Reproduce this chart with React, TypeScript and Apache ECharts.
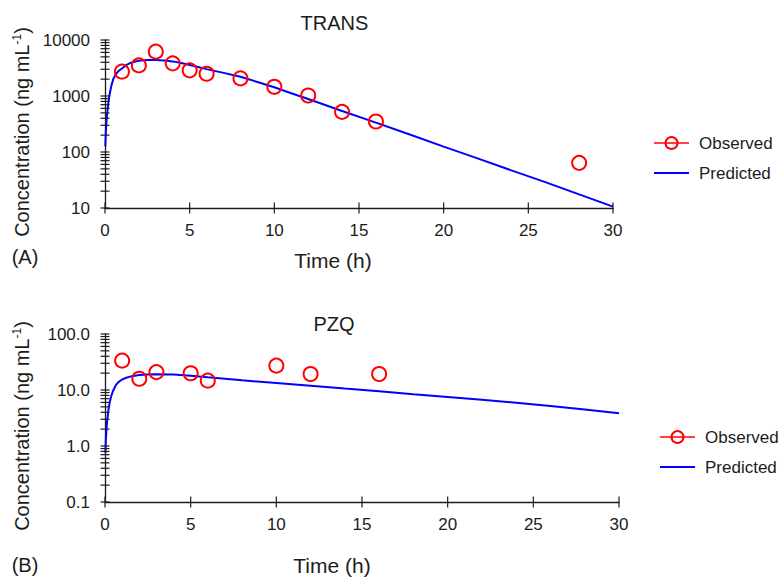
import React, { useEffect, useRef } from "react";
import * as echarts from "echarts";

// ---- Data ----
const transObserved: [number, number][] = [
  [1, 2720], [2, 3520], [3, 6190], [4, 3830], [5, 2870], [6, 2500],
  [8, 2060], [10, 1460], [12, 1020], [14, 520], [16, 350], [28, 64],
];
const transPredicted: [number, number][] = [
  [0.02, 126], [0.05, 230], [0.1, 400], [0.14, 520], [0.2, 760], [0.28, 1100],
  [0.38, 1550], [0.5, 2050], [0.65, 2450], [0.8, 2800], [1, 3100], [1.25, 3550],
  [1.5, 3900], [1.75, 4100], [2, 4250], [2.5, 4380], [3, 4390], [3.5, 4300],
  [4, 4150], [4.5, 3870], [5, 3580], [5.5, 3290], [6, 3020], [7, 2590],
  [8, 2200], [9, 1780], [10, 1430], [11, 1120], [12, 885], [14, 540], [16, 335],
  [18, 205], [20, 125], [22, 77], [24, 47], [26, 29], [28, 17.5], [30, 10.6],
];
const pzqObserved: [number, number][] = [
  [1, 33.4], [2, 15.9], [3, 20.9], [5, 19.9], [6, 14.7], [10, 27.2], [12, 19.3], [16, 19.3],
];
const pzqPredicted: [number, number][] = [
  [0.02, 0.75], [0.05, 1.3], [0.08, 1.9], [0.12, 2.7], [0.2, 4.4], [0.27, 5.9],
  [0.35, 7.5], [0.45, 9.3], [0.63, 12.2], [0.8, 14.0], [1, 15.4], [1.25, 16.6],
  [1.5, 17.5], [2, 18.5], [2.5, 19.0], [3, 19.2], [4, 18.9], [5, 18.0],
  [6, 16.9], [7, 15.9], [8, 14.9], [10, 13.3], [12, 11.9], [14, 10.6],
  [16, 9.5], [18, 8.4], [20, 7.5], [22, 6.7], [24, 5.9], [26, 5.2],
  [28, 4.5], [30, 3.85],
];

const xTicks = [0, 5, 10, 15, 20, 25, 30];
const topDecades = [10, 100, 1000];
const topMaxTick = 10000;
const bottomDecades = [0.1, 1, 10];
const bottomMaxTick = 100;
const minorFactors = [1, 2, 3, 4, 5, 6, 7, 8, 9];

const titles = ["TRANS", "PZQ"];
const panelLetters = ["(A)", "(B)"];
const xName = "Time (h)";
const legendNames = ["Observed", "Predicted"];

const FONT = '"Liberation Sans", Arial, sans-serif';
const INK = "#1c1c1c";
const RED = "#ff0000";
const BLUE = "#0000ff";

function logTicks(decades: number[], top: number): number[] {
  const out: number[] = [];
  decades.forEach((d) => minorFactors.forEach((f) => out.push(+(d * f).toPrecision(6))));
  out.push(top);
  return out;
}

export default function App() {
  const ref = useRef<HTMLDivElement>(null);

  useEffect(() => {
    if (!ref.current) return;
    const chart = echarts.init(ref.current, undefined, { renderer: "svg" });

    const yTickSeries = (gridIdx: number, values: number[], xMin: number) => ({
      type: "custom",
      xAxisIndex: gridIdx,
      yAxisIndex: gridIdx,
      silent: true,
      clip: false,
      z: 5,
      data: values.map((v) => [xMin, v]),
      renderItem: (_p: any, api: any) => {
        const p = api.coord([api.value(0), api.value(1)]);
        return {
          type: "line",
          shape: { x1: p[0] - 4.5, y1: p[1], x2: p[0] + 4.5, y2: p[1] },
          style: { stroke: INK, lineWidth: 1.2 },
        };
      },
    });
    const xTickSeries = (gridIdx: number, yMin: number) => ({
      type: "custom",
      xAxisIndex: gridIdx,
      yAxisIndex: gridIdx,
      silent: true,
      clip: false,
      z: 5,
      data: xTicks.map((v) => [v, yMin]),
      renderItem: (_p: any, api: any) => {
        const p = api.coord([api.value(0), api.value(1)]);
        return {
          type: "line",
          shape: { x1: p[0], y1: p[1] - 5.5, x2: p[0], y2: p[1] + 5.5 },
          style: { stroke: INK, lineWidth: 1.2 },
        };
      },
    });

    const obsSeries = (gridIdx: number, data: [number, number][]) => ({
      name: "Observed",
      type: "line",
      xAxisIndex: gridIdx,
      yAxisIndex: gridIdx,
      data,
      symbol: "circle",
      symbolSize: 14,
      showSymbol: true,
      z: 4,
      lineStyle: { opacity: 0, width: 0 },
      itemStyle: { color: "rgba(255,255,255,0)", borderColor: RED, borderWidth: 2 },
      color: RED,
    });
    const predSeries = (gridIdx: number, data: [number, number][]) => ({
      name: "Predicted",
      type: "line",
      xAxisIndex: gridIdx,
      yAxisIndex: gridIdx,
      data,
      symbol: "none",
      smooth: false,
      z: 3,
      lineStyle: { color: BLUE, width: 2 },
      itemStyle: { color: BLUE },
      color: BLUE,
    });

    const xAxis = (gridIdx: number) => ({
      type: "value",
      gridIndex: gridIdx,
      min: 0,
      max: 30,
      interval: 5,
      axisLine: { show: true, onZero: false, lineStyle: { color: INK, width: 1.3 } },
      axisTick: { show: false },
      splitLine: { show: false },
      axisLabel: { color: INK, fontSize: 17, fontFamily: FONT, margin: 14 },
    });
    const yAxis = (gridIdx: number, min: number, max: number, fmt: (v: number) => string) => ({
      type: "log",
      logBase: 10,
      gridIndex: gridIdx,
      min,
      max,
      axisLine: { show: true, onZero: false, lineStyle: { color: INK, width: 1.3 } },
      axisTick: { show: false },
      minorTick: { show: false },
      splitLine: { show: false },
      axisLabel: { color: INK, fontSize: 17, fontFamily: FONT, margin: 15, formatter: fmt },
    });

    const legend = (top: number, left: number) => ({
      orient: "vertical",
      left,
      top,
      padding: 0,
      itemWidth: 35,
      itemHeight: 15,
      itemGap: 12,
      selectedMode: false,
      textStyle: { color: INK, fontSize: 17, fontFamily: FONT, lineHeight: 18, padding: [0, 0, 0, 5] },
      data: [
        {
          name: legendNames[0],
          lineStyle: { color: RED, width: 1.5, opacity: 1, type: "solid" },
          itemStyle: { color: "rgba(255,255,255,0)", borderColor: RED, borderWidth: 2 },
        },
        {
          name: legendNames[1],
          lineStyle: { color: BLUE, width: 2, opacity: 1, type: "solid" },
          itemStyle: { opacity: 0, color: "rgba(0,0,0,0)", borderWidth: 0 },
        },
      ],
    });

    const yName = "{a|Concentration (ng mL}{s|-1}{a|)}";
    const yNameRich = {
      a: { fontSize: 20, fontFamily: FONT, fill: INK, color: INK, lineHeight: 22 },
      s: { fontSize: 12, fontFamily: FONT, fill: INK, color: INK, lineHeight: 12, verticalAlign: "top" },
    };
    const txt = (text: string, x: number, y: number, size: number) => ({
      type: "text",
      x,
      y,
      silent: true,
      style: {
        text,
        fill: INK,
        font: `${size}px ${FONT}`,
        align: "center",
        verticalAlign: "middle",
        textAlign: "center",
        textVerticalAlign: "middle",
      },
    });
    const rotName = (y: number) => ({
      type: "text",
      x: 22,
      y,
      rotation: Math.PI / 2,
      silent: true,
      style: {
        text: yName,
        rich: yNameRich,
        fill: INK,
        align: "center",
        verticalAlign: "middle",
        textAlign: "center",
        textVerticalAlign: "middle",
      },
    });

    const fmtTop = (v: number) => String(Math.round(v));
    const fmtBottom = (v: number) => Number(v).toFixed(1);

    chart.setOption({
      animation: false,
      backgroundColor: "#ffffff",
      textStyle: { fontFamily: FONT },
      grid: [
        { left: 105, top: 40, width: 508, height: 168, containLabel: false },
        { left: 105, top: 334, width: 514, height: 168, containLabel: false },
      ],
      xAxis: [xAxis(0), xAxis(1)],
      yAxis: [yAxis(0, 10, 10000, fmtTop), yAxis(1, 0.1, 100, fmtBottom)],
      legend: [legend(134, 653), legend(428, 659)],
      series: [
        predSeries(0, transPredicted),
        obsSeries(0, transObserved),
        predSeries(1, pzqPredicted),
        obsSeries(1, pzqObserved),
        yTickSeries(0, logTicks(topDecades, topMaxTick), 0),
        xTickSeries(0, 10),
        yTickSeries(1, logTicks(bottomDecades, bottomMaxTick), 0),
        xTickSeries(1, 0.1),
      ],
      graphic: [
        txt(titles[0], 334.5, 23, 20),
        txt(titles[1], 334, 324, 20),
        txt(xName, 333, 260, 21),
        txt(xName, 332, 565, 21),
        txt(panelLetters[0], 25, 257, 20),
        txt(panelLetters[1], 25, 565, 20),
        rotName(132),
        rotName(426),
      ],
    });

    return () => chart.dispose();
  }, []);

  return (
    <div
      ref={ref}
      style={{ position: "fixed", left: 0, top: 0, width: 779, height: 577, background: "#fff" }}
    />
  );
}
